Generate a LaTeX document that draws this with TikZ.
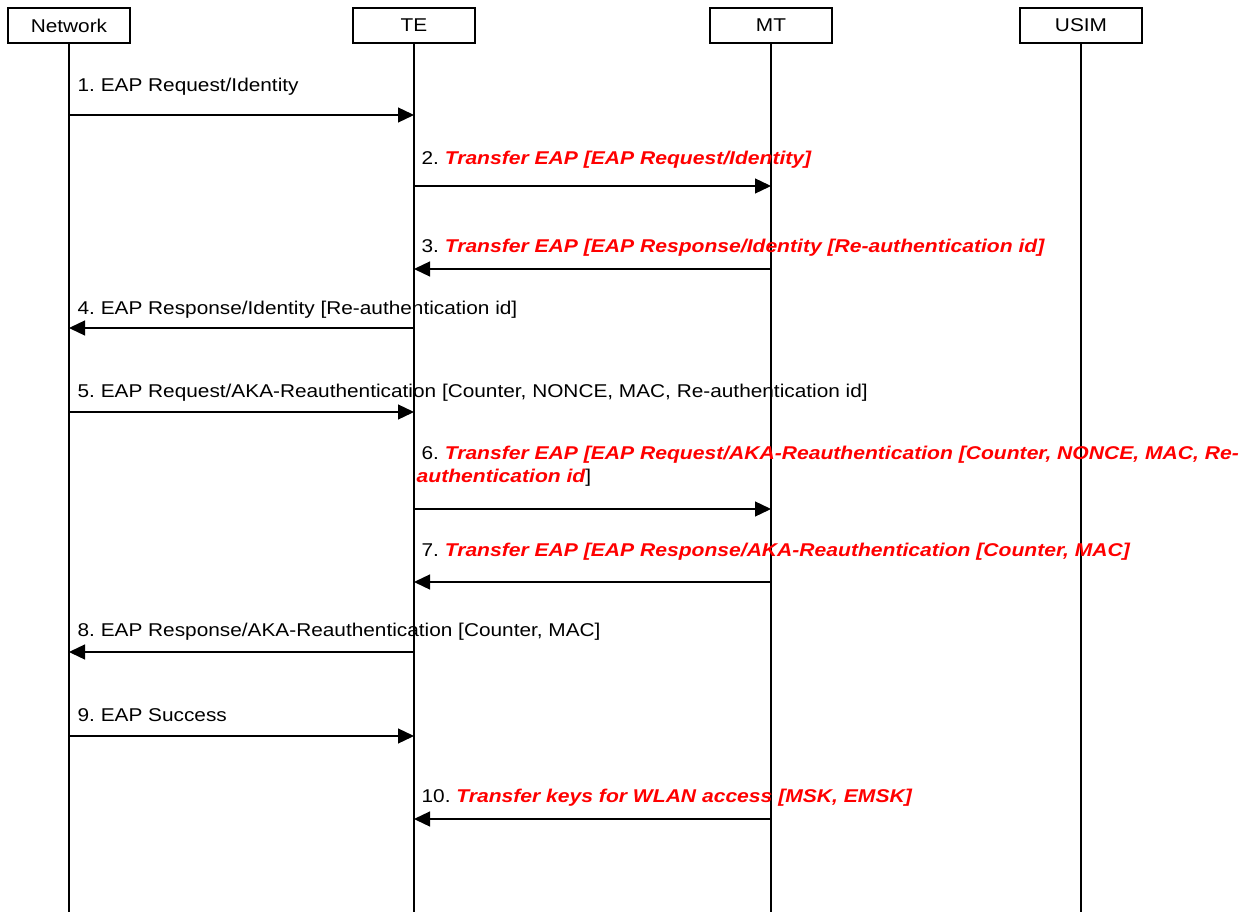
\documentclass[tikz,border=0pt]{standalone}
\usepackage{fontspec}
\setmainfont[FakeStretch=1.125,BoldItalicFeatures={FakeStretch=1.14}]{Liberation Sans}
\usetikzlibrary{arrows.meta}

\newcommand{\redmsg}[1]{\textcolor{red}{\bfseries\itshape #1}}

\begin{document}
\frenchspacing
\begin{tikzpicture}[x=1pt,y=-1pt,line width=1.3pt,
    head/.style={draw,line width=1.1pt,minimum width=122pt,minimum height=35pt,inner sep=0pt,font=\fontsize{18.5}{20}\selectfont},
    msg/.style={-{Triangle[length=16pt,width=15pt]}},
    lbl/.style={anchor=base west,inner sep=0pt,font=\fontsize{18.5}{20}\selectfont}]
    \useasboundingbox (0,0) rectangle (1253,912);

    % lifeline heads
    \node[head] (net) at (69,25.5) {Network};
    \node[head] (te) at (414,25.5) {TE};
    \node[head] (mt) at (771,25.5) {MT};
    \node[head] (usim) at (1081,25.5) {USIM};

    \coordinate (netend) at (net.south |- 0,912);
    \coordinate (teend) at (te.south |- 0,912);
    \coordinate (mtend) at (mt.south |- 0,912);
    \coordinate (usimend) at (usim.south |- 0,912);

    \draw (net.south) -- (netend);
    \draw (te.south) -- (teend);
    \draw (mt.south) -- (mtend);
    \draw (usim.south) -- (usimend);

    % messages
    \draw[msg] (net |- 0,115) -- (te |- 0,115);
    \node[lbl] (l1) at (77,92) {1. EAP Request/Identity};

    \draw[msg] (te |- 0,186) -- (mt |- 0,186);
    \node[lbl] (l2) at (421,165) {2. \redmsg{Transfer EAP [EAP Request/Identity]}};

    \draw[msg] (mt |- 0,269) -- (te |- 0,269);
    \node[lbl] (l3) at (421,253) {3. \redmsg{Transfer EAP [EAP Response/Identity [Re-authentication id]}};

    \draw[msg] (te |- 0,328) -- (net |- 0,328);
    \node[lbl] (l4) at (77,314) {4. EAP Response/Identity [Re-authentication id]};

    \draw[msg] (net |- 0,412) -- (te |- 0,412);
    \node[lbl] (l5) at (77,397) {5. EAP Request/AKA-Reauthentication [Counter, NONCE, MAC, Re-authentication id]};

    \draw[msg] (te |- 0,509) -- (mt |- 0,509);
    \node[lbl] (l6a) at (421,459) {6. \redmsg{Transfer EAP [EAP Request/AKA-Reauthentication [Counter, NONCE, MAC, Re-}};
    \node[lbl] (l6b) at (416,482) {\redmsg{authentication id}]};

    \draw[msg] (mt |- 0,582) -- (te |- 0,582);
    \node[lbl] (l7) at (421,556) {7. \redmsg{Transfer EAP [EAP Response/AKA-Reauthentication [Counter, MAC]}};

    \draw[msg] (te |- 0,652) -- (net |- 0,652);
    \node[lbl] (l8) at (77,636) {8. EAP Response/AKA-Reauthentication [Counter, MAC]};

    \draw[msg] (net |- 0,736) -- (te |- 0,736);
    \node[lbl] (l9) at (77,721) {9. EAP Success};

    \draw[msg] (mt |- 0,819) -- (te |- 0,819);
    \node[lbl] (l10) at (421,802) {10. \redmsg{Transfer keys for WLAN access [MSK, EMSK]}};

\end{tikzpicture}
\end{document}
